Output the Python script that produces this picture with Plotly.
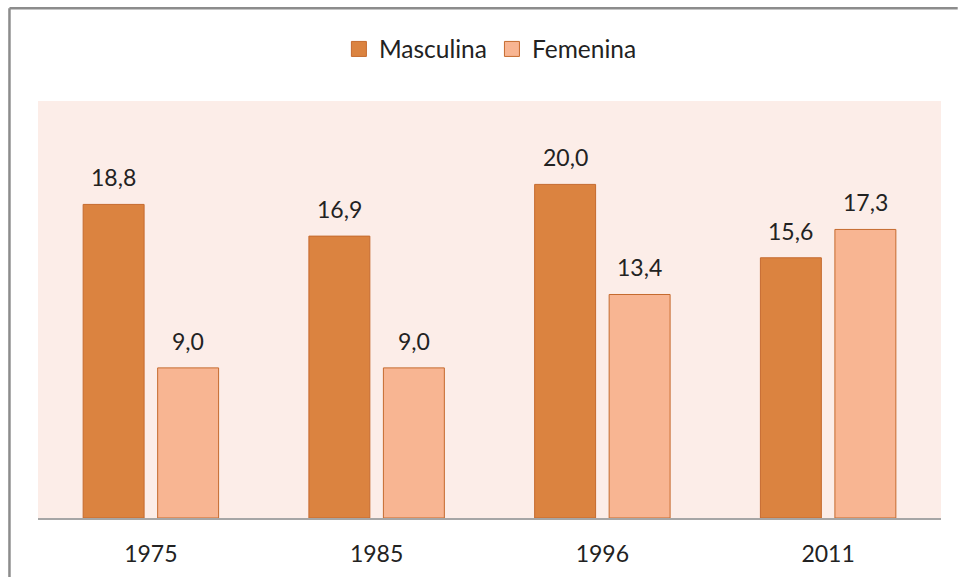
import plotly.graph_objects as go

years = ["1975", "1985", "1996", "2011"]
masculina = [18.8, 16.9, 20.0, 15.6]
femenina = [9.0, 9.0, 13.4, 17.3]
series_names = ["Masculina", "Femenina"]

col_m = "#DB8340"
col_f = "#F8B592"
edge = "#C56A2E"
txt = "#222222"
font_family = "Lato"

xpos = list(range(len(years)))
bar_w = 0.27
offs = [-0.30, 0.03]

fig = go.Figure()
for vals, name, col, off in zip([masculina, femenina], series_names, [col_m, col_f], offs):
    fig.add_trace(go.Bar(
        x=xpos, y=vals, name=name, width=bar_w, offset=off,
        marker=dict(color=col, line=dict(color=edge, width=1)),
        showlegend=False, hoverinfo="skip",
    ))
    # legend proxy
    fig.add_trace(go.Scatter(
        x=[None], y=[None], mode="markers", name=name,
        marker=dict(symbol="square", size=15, color=col, line=dict(color=edge, width=1)),
    ))
    for xi, v in zip(xpos, vals):
        fig.add_annotation(
            x=xi + off + bar_w / 2, y=v, xref="x", yref="y",
            text=f"{v:.1f}".replace(".", ","), showarrow=False,
            yanchor="bottom", yshift=11,
            font=dict(family=font_family, size=23, color=txt),
        )

# outer chart border (top and left edges visible)
fig.add_shape(type="line", xref="paper", yref="paper",
              x0=-0.0316, x1=-0.0316, y0=-0.2, y1=1.2223,
              line=dict(color="#8C8C8C", width=2.5))
fig.add_shape(type="line", xref="paper", yref="paper",
              x0=-0.0316, x1=1.0185, y0=1.2223, y1=1.2223,
              line=dict(color="#8C8C8C", width=2.5))

fig.update_layout(
    width=958, height=577,
    margin=dict(l=38, r=17, t=101, b=59, autoexpand=False),
    paper_bgcolor="white",
    plot_bgcolor="#FCEDE8",
    font=dict(family=font_family, size=23, color=txt),
    showlegend=True,
    legend=dict(
        orientation="h", x=0.501, xanchor="center", y=1.1247, yanchor="middle",
        font=dict(family=font_family, size=24.5, color=txt),
        bgcolor="rgba(0,0,0,0)",
    ),
    xaxis=dict(
        range=[-0.5, 3.5], tickvals=xpos, ticktext=years,
        showgrid=False, zeroline=False, showline=True,
        linecolor="#A6A6A6", linewidth=1.5, ticks="",
        ticklabelstandoff=15, automargin=False,
        tickfont=dict(family=font_family, size=23, color=txt),
        fixedrange=True,
    ),
    yaxis=dict(range=[0, 25], visible=False, showgrid=False, fixedrange=True),
)

fig.write_html(
    "out.html",
    config={"displayModeBar": False},
    post_script="document.body.style.margin='0';document.body.style.overflow='hidden';",
)
